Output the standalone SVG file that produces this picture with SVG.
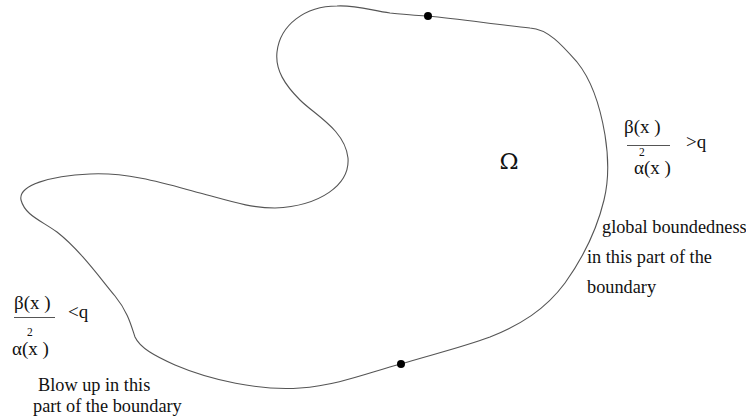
<svg xmlns="http://www.w3.org/2000/svg" width="746" height="418" viewBox="0 0 746 418">
<style>
.t{font-family:"Liberation Serif","Times New Roman",serif;fill:#111;}
.f{font-size:19px;}
.s{font-size:11.5px;}
.l{font-size:18.3px;}
.dot{fill:#000;}
.frac{stroke:#555;stroke-width:1;}
</style>
<rect width="746" height="418" fill="#fff"/>
<g id="boundary">
<path d="M337,6 C355,5 370,10 390,13 C410,15 420,16 428,16 C460,19 500,25 530,28 C548,29 562,45 577,62 C590,78 600,105 605,135 C609,160 609,180 604,200 C598,225 585,255 565,283 C545,310 520,325 490,337 C460,348 430,355 401,364 C370,372 340,385 300,388 C260,391 210,380 175,365 C155,356 140,348 135,337 C131,325 128,312 115,296 C100,278 80,250 57,232 C40,220 25,215 21,200 C18,185 50,176 90,174 C130,172 170,185 200,193 C230,201 250,208 275,208 C320,206 350,185 348,158 C345,130 315,115 300,100 C285,85 275,70 277,52 C280,25 305,6 337,6 Z" fill="none" stroke="#555" stroke-width="1.1"/>
</g>
<g id="points">
<circle class="dot" cx="428" cy="16" r="4"/>
<circle class="dot" cx="401" cy="364" r="4"/>
</g>
<g id="omega">
<text x="509" y="169" font-family="'DejaVu Serif',serif" font-size="23" text-anchor="middle" fill="#111">Ω</text>
</g>
<g id="right-formula">
<text class="t f" x="624" y="133">β(x )</text>
<line class="frac" x1="627" y1="145.5" x2="670" y2="145.5"/>
<text class="t s" x="639" y="155.5">2</text>
<text class="t f" x="634" y="174">α(x )</text>
<text class="t f" x="686" y="148">&gt;q</text>
</g>
<g id="left-formula">
<text class="t f" x="14" y="309">β(x )</text>
<line class="frac" x1="14" y1="317.5" x2="55" y2="317.5"/>
<text class="t s" x="27" y="336">2</text>
<text class="t f" x="12" y="355">α(x )</text>
<text class="t f" x="68" y="318">&lt;q</text>
</g>
<g id="right-label">
<text class="t l" x="602" y="233">global boundedness</text>
<text class="t l" x="587" y="263">in this part of the</text>
<text class="t l" x="587" y="293">boundary</text>
</g>
<g id="left-label">
<text class="t l" x="38" y="391">Blow up in this</text>
<text class="t l" x="33" y="412">part of the boundary</text>
</g>
</svg>
